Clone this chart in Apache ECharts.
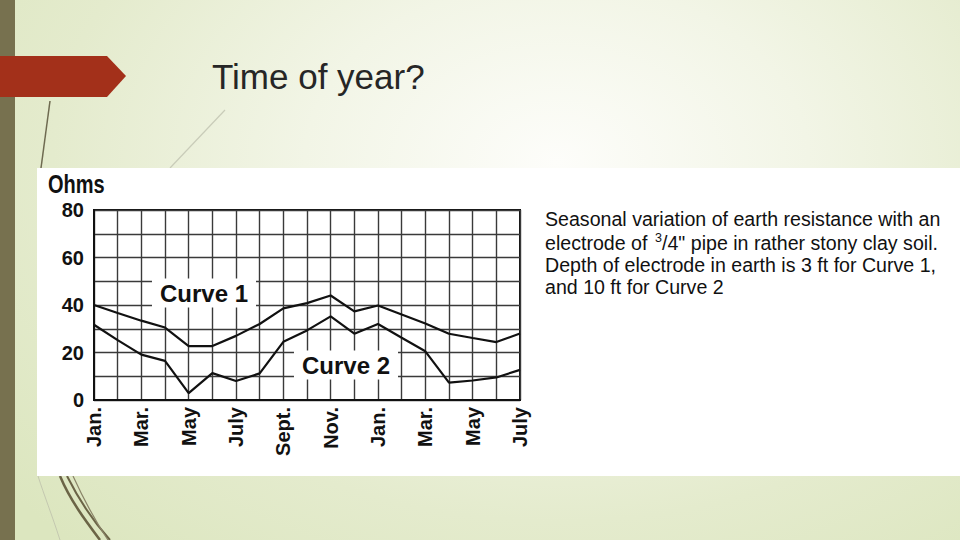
<!DOCTYPE html>
<html>
<head>
<meta charset="utf-8">
<script src="https://cdn.jsdelivr.net/npm/echarts@6/dist/echarts.min.js"></script>
<style>
  html, body { margin:0; padding:0; width:960px; height:540px; overflow:hidden; }
  body { position:relative; background: radial-gradient(ellipse 75% 95% at 58% 30%, #fdfdfa 0%, #f2f5e6 35%, #e4ebcd 70%, #dce6bf 100%); }
  #bar { position:absolute; left:0; top:0; width:15px; height:540px; background:#77714f; }
  #arrow { position:absolute; left:0; top:56px; width:126px; height:41px; background:#a3301a;
           clip-path: polygon(0 0, 107px 0, 126px 20px, 107px 41px, 0 41px); }
  #panel { position:absolute; left:37px; top:168px; width:923px; height:308px; background:#ffffff; }
  #deco { position:absolute; left:0; top:0; }
  #chart { position:absolute; left:0; top:0; width:960px; height:540px; }
</style>
</head>
<body>
<svg id="deco" width="960" height="540">
  <line x1="50" y1="101" x2="41" y2="168" stroke="#6e6a50" stroke-width="1.5"/>
  <line x1="225" y1="110" x2="170" y2="168" stroke="#c9ccb9" stroke-width="1.2"/>
  <path d="M60 476 C70 500, 85 520, 100 540" stroke="#6b6446" stroke-width="2.5" fill="none"/>
  <path d="M67 476 C78 498, 92 520, 110 540" stroke="#6b6446" stroke-width="2" fill="none"/>
  <path d="M73 476 C84 500, 96 522, 108 540" stroke="#8a8468" stroke-width="1.2" fill="none"/>
  <path d="M38 476 C44 495, 52 515, 60 540" stroke="#c4c8b0" stroke-width="1" fill="none"/>
</svg>
<div id="bar"></div>
<div id="arrow"></div>
<div id="panel"></div>
<div id="chart"></div>
<script>
const months = ['Jan.','Feb.','Mar.','Apr.','May','June','July','Aug.','Sept.','Oct.','Nov.','Dec.',
                'Jan.','Feb.','Mar.','Apr.','May','June','July'];
const curve1 = [40, 36.6, 33.4, 30.5, 22.7, 22.7, 27, 32, 38.6, 40.8, 44, 37.3, 39.8, 36, 32.2, 27.9, 26.1, 24.4, 28];
const curve2 = [31.7, 25.2, 19.1, 16.5, 2.9, 11.3, 8, 11.2, 24.5, 29.3, 35.2, 27.9, 32, 26.2, 20.5, 7.3, 8.2, 9.5, 12.7];
const yTicks = [0, 20, 40, 60, 80];
const titleText = 'Time of year?';
const unitText = 'Ohms';
const captionLines = [
  'Seasonal variation of earth resistance with an',
  'electrode of',
  '3',
  '/4" pipe in rather stony clay soil.',
  'Depth of electrode in earth is 3 ft for Curve 1,',
  'and 10 ft for Curve 2'
];
const seriesNames = ['Curve 1', 'Curve 2'];

const chart = echarts.init(document.getElementById('chart'), null, { renderer: 'svg' });
const F = '"Liberation Sans", Arial, Helvetica, sans-serif';
const gridLine = { show: true, lineStyle: { color: '#3a3a3a', width: 1.4 } };
const cap = '19.6px ' + F;

chart.setOption({
  backgroundColor: 'transparent',
  animation: false,
  grid: { left: 94, right: 440, top: 210, bottom: 140, show: true, borderColor: '#111', borderWidth: 2, backgroundColor: 'transparent' },
  xAxis: {
    type: 'category', data: months, boundaryGap: false,
    axisLine: { show: true, lineStyle: { color: '#111', width: 2 } },
    axisTick: { show: false },
    splitLine: Object.assign({ interval: 0 }, gridLine),
    axisLabel: { interval: 1, rotate: 90, margin: 7, color: '#111', fontFamily: F, fontWeight: 'bold', fontSize: 20 }
  },
  yAxis: {
    type: 'value', min: 0, max: 80, interval: 10,
    axisLine: { show: true, lineStyle: { color: '#111', width: 2 } },
    axisTick: { show: false },
    splitLine: gridLine,
    axisLabel: { margin: 10, color: '#111', fontFamily: F, fontWeight: 'bold', fontSize: 20,
      formatter: v => yTicks.indexOf(v) >= 0 ? String(v) : '' }
  },
  series: [
    { name: seriesNames[0], type: 'line', data: curve1, showSymbol: false, symbol: 'none', z: 5,
      lineStyle: { color: '#111', width: 2.2 } },
    { name: seriesNames[1], type: 'line', data: curve2, showSymbol: false, symbol: 'none', z: 5,
      lineStyle: { color: '#111', width: 2.2 } }
  ],
  graphic: { elements: [
    { type: 'text', x: 212, y: 76, z: 10, style: { text: titleText, fill: '#262626', font: '35px ' + F, verticalAlign: 'middle' } },
    { type: 'text', x: 48, y: 185, scaleX: 0.8, originX: 0, originY: 0, z: 10, style: { text: unitText, fill: '#111',
        font: 'bold 25px "Liberation Sans Narrow", "Liberation Sans", Arial, sans-serif', verticalAlign: 'middle' } },
    { type: 'text', x: 204, y: 293, z: 10, style: { text: seriesNames[0], fill: '#111', font: 'bold 24px ' + F,
        align: 'center', verticalAlign: 'middle', backgroundColor: '#fff', padding: [3, 8, 2, 8] } },
    { type: 'text', x: 346, y: 365, z: 10, style: { text: seriesNames[1], fill: '#111', font: 'bold 24px ' + F,
        align: 'center', verticalAlign: 'middle', backgroundColor: '#fff', padding: [3, 8, 2, 8] } },
    { type: 'text', x: 545, y: 219, z: 10, style: { text: captionLines[0], fill: '#111', font: cap, lineHeight: 16, verticalAlign: 'middle' } },
    { type: 'text', x: 545, y: 243, z: 10, style: { text: captionLines[1], fill: '#111', font: cap, lineHeight: 18, verticalAlign: 'middle' } },
    { type: 'text', x: 655, y: 238, z: 10, style: { text: captionLines[2], fill: '#111', font: '12.5px ' + F, lineHeight: 11, verticalAlign: 'middle' } },
    { type: 'text', x: 662, y: 243, z: 10, style: { text: captionLines[3], fill: '#111', font: cap, lineHeight: 18, verticalAlign: 'middle' } },
    { type: 'text', x: 545, y: 265, z: 10, style: { text: captionLines[4], fill: '#111', font: cap, lineHeight: 18, verticalAlign: 'middle' } },
    { type: 'text', x: 545, y: 287, z: 10, style: { text: captionLines[5], fill: '#111', font: cap, lineHeight: 18, verticalAlign: 'middle' } }
  ] }
});
</script>
</body>
</html>
